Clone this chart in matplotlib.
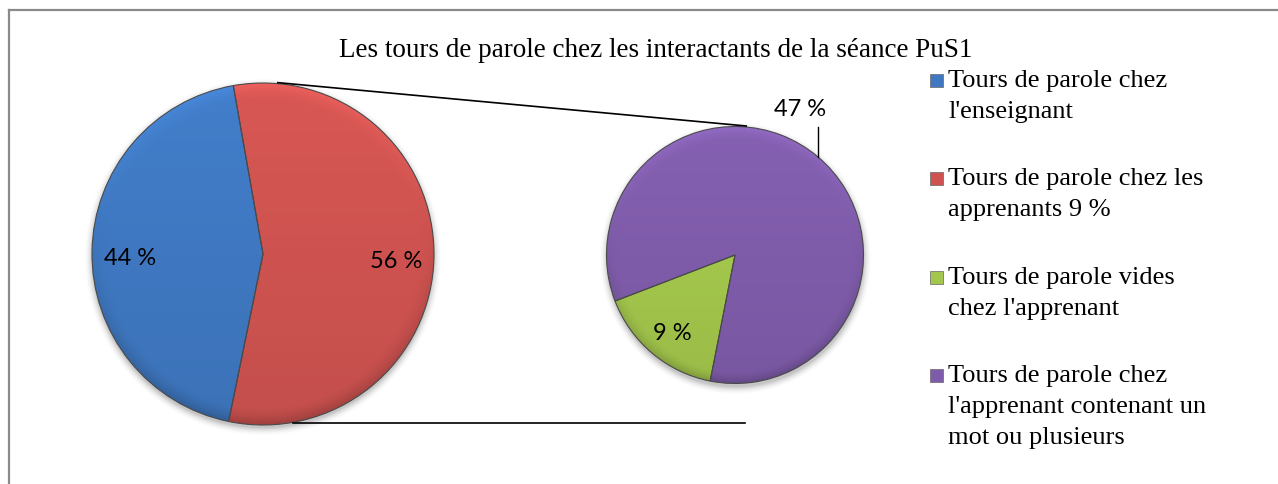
import numpy as np
import matplotlib
matplotlib.use('Agg')
import matplotlib.pyplot as plt
from matplotlib.colors import to_rgb
from matplotlib.patches import Rectangle

W, H = 1278, 485

title = "Les tours de parole chez les interactants de la séance PuS1"
main_values = [44, 56]
main_colors = ['#3F78C1', '#CE5350']
detail_values = [9, 47]
detail_colors = ['#A3C64C', '#7F5CAA']
legend_labels = [
    "Tours de parole chez\nl'enseignant",
    "Tours de parole chez les\napprenants 9 %",
    "Tours de parole vides\nchez l'apprenant",
    "Tours de parole chez\nl'apprenant contenant un\nmot ou plusieurs",
]
legend_colors = main_colors + detail_colors

serif = 'Liberation Serif'
sans = 'Lato'

fig = plt.figure(figsize=(W / 100, H / 100), dpi=100)
ax = fig.add_axes([0, 0, 1, 1])

# main pie (left) and the breakdown pie of the red share (right)
main_c, main_r = (263, H - 255), 171
detail_c, detail_r = (735, H - 256), 128.5


def polar(center, r, ang):
    a = np.deg2rad(ang)
    return center[0] + r * np.cos(a), center[1] + r * np.sin(a)


def soft_shadow(center, r):
    pad = 14
    n = int(2 * (r + pad))
    xs = np.linspace(-r - pad, r + pad, n)
    X, Y = np.meshgrid(xs, xs)
    d = np.hypot(X, Y + 3) - r
    alpha = np.clip(1 - d / 9, 0, 1) ** 2 * 0.35
    img = np.zeros((n, n, 4))
    img[..., :3] = 0.35
    img[..., 3] = alpha
    ax.imshow(img, extent=(center[0] - r - pad, center[0] + r + pad,
                           center[1] - r - pad, center[1] + r + pad),
              origin='lower', interpolation='bilinear', zorder=0.5)


def shade_wedges(wedges, colors, center, r):
    # bevelled look: lighter top rim, darker bottom rim, soft vertical gradient
    n = int(2 * r)
    xs = np.linspace(-1, 1, n)
    X, Y = np.meshgrid(xs, xs)
    rr = np.hypot(X, Y)
    rim = np.clip((rr - 0.9) / 0.1, 0, 1) ** 1.5
    factor = 1 + 0.05 * Y + 0.14 * rim * Y - 0.04 * rim
    for w, col in zip(wedges, colors):
        img = np.clip(np.array(to_rgb(col))[None, None, :] * factor[..., None], 0, 1)
        im = ax.imshow(img, extent=(center[0] - r, center[0] + r,
                                    center[1] - r, center[1] + r),
                       origin='lower', interpolation='bilinear', zorder=1.5)
        im.set_clip_path(w)


wedge_kw = dict(edgecolor='#4a4a4a', linewidth=0.8)
main_wedges, _ = ax.pie(main_values, colors=main_colors, startangle=100,
                        center=main_c, radius=main_r, wedgeprops=wedge_kw)
detail_wedges, _ = ax.pie(detail_values, colors=detail_colors, startangle=201,
                          center=detail_c, radius=detail_r, wedgeprops=wedge_kw)

soft_shadow(main_c, main_r)
soft_shadow(detail_c, detail_r)
shade_wedges(main_wedges, main_colors, main_c, main_r)
shade_wedges(detail_wedges, detail_colors, detail_c, detail_r)

# redraw the outlines above the shading
for w in list(main_wedges) + list(detail_wedges):
    w.set_zorder(2)
    w.set_facecolor('none')

for w, v in zip(main_wedges, main_values):
    mid = (w.theta1 + w.theta2) / 2
    x, y = polar(main_c, 0.78 * main_r, mid)
    ax.text(x, y - 5, f"{v} %", family=sans, fontsize=17, ha='center',
            va='center', zorder=3)

# small slice: label inside
g = detail_wedges[0]
x, y = polar(detail_c, 0.76 * detail_r, (g.theta1 + g.theta2) / 2)
ax.text(x, y - 3, f"{detail_values[0]} %", family=sans, fontsize=17,
        ha='center', va='center', zorder=3)

# large slice: label outside with a short leader
p = detail_wedges[1]
ex, ey = polar(detail_c, detail_r, (p.theta1 + p.theta2) / 2)
ax.plot([ex, ex], [ey, ey + 30], color='black', lw=1, zorder=3)
ax.text(ex - 18, ey + 48, f"{detail_values[1]} %", family=sans, fontsize=17,
        ha='center', va='center')

# connector lines between the two pies
x1, y1 = polar(main_c, main_r, 85)
x2, y2 = polar(detail_c, detail_r, 85)
ax.plot([x1, x2], [y1 + 1, y2 + 1], color='black', lw=1.2, zorder=3)
x3, y3 = polar(main_c, main_r, 280)
ax.plot([x3, detail_c[0] + 10], [y3 - 1, y3 - 1], color='black', lw=1.2, zorder=3)

ax.text(656, H - 57, title, family=serif, fontsize=19.5,
        ha='center', va='baseline')

# legend
for i, (lab, col) in enumerate(zip(legend_labels, legend_colors)):
    base = 87 + i * 98.3
    ax.add_patch(Rectangle((930, H - base - 1), 13, 13, facecolor=col,
                           edgecolor='#666666', lw=0.5))
    for j, line in enumerate(lab.split('\n')):
        ax.text(948, H - (base + j * 31), line, family=serif, fontsize=19,
                ha='left', va='baseline')

# chart frame (top and left edges fall inside the image)
ax.plot([8.5, W], [H - 11, H - 11], color='#8a8a8a', lw=1.6)
ax.plot([8.5, 8.5], [0, H - 11], color='#8a8a8a', lw=1.6)

ax.set_xlim(0, W)
ax.set_ylim(0, H)
ax.set_aspect('equal')
ax.axis('off')

fig.savefig('out.png', dpi=100, facecolor='white')
